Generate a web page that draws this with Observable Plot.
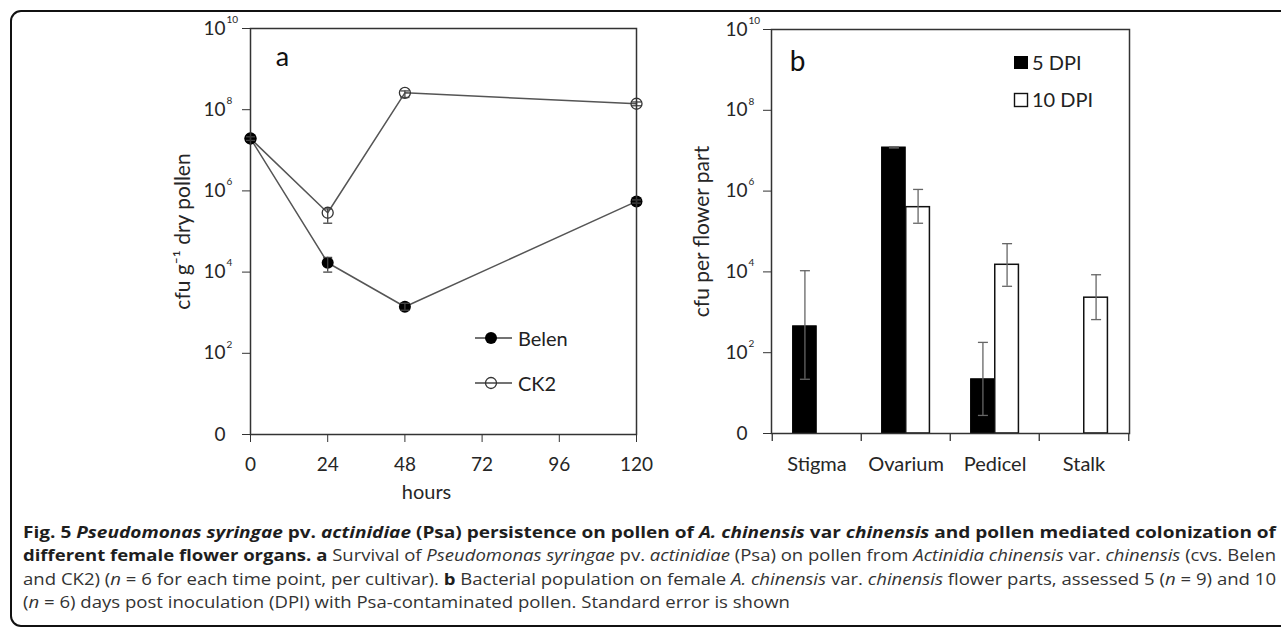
<!DOCTYPE html>
<html>
<head>
<meta charset="utf-8">
<script src="https://cdn.jsdelivr.net/npm/d3@7"></script>
<script src="https://cdn.jsdelivr.net/npm/@observablehq/plot@0.6"></script>
<style>
html, body { margin: 0; padding: 0; background: #fff; }
body { width: 1281px; height: 628px; overflow: hidden; position: relative; font-family: Lato, "Open Sans", sans-serif; }
#box { position: absolute; left: 10px; top: 10px; width: 1320px; height: 617px; border: 2.5px solid #111; border-radius: 11px; box-sizing: border-box; }
#pa { position: absolute; left: 0; top: 0; }
#pb { position: absolute; left: 680px; top: 0; }
.lgt { position: absolute; font-family: Lato, sans-serif; font-size: 20px; color: #222; line-height: 24px; white-space: nowrap; }
#cap { position: absolute; left: 23px; top: 521px; font-family: "Open Sans", sans-serif; font-size: 15.5px; color: #333; }
.ln { position: absolute; left: 0; white-space: nowrap; display: inline-block; transform-origin: 0 50%; line-height: 23.3px; }
.ln b { color: #1e1e1e; font-weight: 700; }
</style>
</head>
<body>
<div id="box"></div>
<div id="pa"></div>
<div id="pb"></div>

<svg style="position:absolute;left:0;top:0;overflow:visible" width="1281" height="628" id="legsvg">
  <line x1="475" y1="338" x2="512" y2="338" stroke="#444" stroke-width="1.5"/>
  <circle cx="491" cy="338" r="6" fill="#000"/>
  <line x1="475" y1="383" x2="512" y2="383" stroke="#444" stroke-width="1.5"/>
  <circle cx="491" cy="383" r="5.5" fill="none" stroke="#333" stroke-width="1.3"/>
  <rect x="1014" y="56" width="14" height="13" fill="#000"/>
  <rect x="1014.5" y="93.5" width="13" height="13" fill="#fff" stroke="#111" stroke-width="1.4"/>
</svg>
<div class="lgt" style="left:518px;top:326px">Belen</div>
<div class="lgt" style="left:518px;top:371px">CK2</div>
<div class="lgt" style="left:1032px;top:50px">5 DPI</div>
<div class="lgt" style="left:1032px;top:87px">10 DPI</div>

<div id="cap">
  <div class="ln" style="top:0px"><b>Fig. 5 <i>Pseudomonas syringae</i> pv. <i>actinidiae</i> (Psa) persistence on pollen of <i>A. chinensis</i> var <i>chinensis</i> and pollen mediated colonization of</b></div>
  <div class="ln" style="top:23.3px"><b>different female flower organs. a</b> Survival of <i>Pseudomonas syringae</i> pv. <i>actinidiae</i> (Psa) on pollen from <i>Actinidia chinensis</i> var. <i>chinensis</i> (cvs. Belen</div>
  <div class="ln" style="top:46.6px">and CK2) (<i>n</i> = 6 for each time point, per cultivar). <b>b</b> Bacterial population on female <i>A. chinensis</i> var. <i>chinensis</i> flower parts, assessed 5 (<i>n</i> = 9) and 10</div>
  <div class="ln" style="top:69.9px">(<i>n</i> = 6) days post inoculation (DPI) with Psa-contaminated pollen. Standard error is shown</div>
</div>

<script>
// ---------- Data: panel a ----------
const hours = [0, 24, 48, 120];
const hourTicks = [0, 24, 48, 72, 96, 120];
const belenMean = [1.95e7, 1.7e4, 1.4e3, 5.5e5];
const belenLow  = [1.75e7, 1.0e4, 1.15e3, 5.0e5];
const belenHigh = [2.15e7, 2.3e4, 1.7e3, 6.0e5];
const ck2Mean = [1.95e7, 2.9e5, 2.6e8, 1.4e8];
const ck2Low  = [1.75e7, 1.6e5, 2.0e8, 1.25e8];
const ck2High = [2.15e7, 3.6e5, 2.9e8, 1.55e8];

// ---------- Data: panel b ----------
const parts = ["Stigma", "Ovarium", "Pedicel", "Stalk"];
const dpi5Mean = [450, 1.2e7, 22, null];
const dpi5Low  = [22, 1.17e7, 2.8, null];
const dpi5High = [1.07e4, 1.25e7, 180, null];
const dpi10Mean = [null, 4.0e5, 1.5e4, 2.3e3];
const dpi10Low  = [null, 1.6e5, 4.4e3, 660];
const dpi10High = [null, 1.1e6, 5.0e4, 8.5e3];

// ---------- Shared axis ticks ----------
const yTicks = [1, 1e2, 1e4, 1e6, 1e8, 1e10];
const yBase = d => d === 1 ? "0" : "10";
const yExp = d => String(Math.round(Math.log10(d)));

// horizontal cap symbol for error bars
const capSymbol = {
  draw(ctx, size) {
    const r = Math.sqrt(size / Math.PI);
    ctx.moveTo(-r, 0);
    ctx.lineTo(r, 0);
  }
};

const rowsBelen = hours.map((h, i) => ({hour: h, value: belenMean[i], lo: belenLow[i], hi: belenHigh[i], series: "Belen"}));
const rowsCk2 = hours.map((h, i) => ({hour: h, value: ck2Mean[i], lo: ck2Low[i], hi: ck2High[i], series: "CK2"}));

const ink = "#262626";
const baseStyle = {fontFamily: "Lato, 'Open Sans', sans-serif", fontSize: "19px", color: ink, background: "none", overflow: "visible"};

// ---------- Panel a ----------
const plotA = Plot.plot({
  width: 680, height: 520,
  marginLeft: 250, marginRight: 44, marginTop: 28, marginBottom: 86,
  style: baseStyle,
  x: {domain: [0, 120]},
  y: {type: "log", domain: [1, 1e10]},
  marks: [
    Plot.axisX({ticks: hourTicks, tickSize: 8, tickPadding: 15, label: null, stroke: "#333", fill: ink}),
    Plot.axisY({ticks: yTicks, tickSize: 8, tickPadding: 17, tickFormat: yBase, label: null, stroke: "#333", fill: ink}),
    Plot.text(yTicks.filter(d => d > 1), {y: d => d, frameAnchor: "left", text: yExp, dx: -24, dy: -9, textAnchor: "start", fontSize: 10, fill: ink}),
    Plot.text(["cfu g\u207B\u00B9 dry pollen"], {frameAnchor: "left", text: d => d, rotate: -90, dx: -67, textAnchor: "middle", lineAnchor: "middle", fontSize: 21, fill: ink}),
    Plot.text(["hours"], {frameAnchor: "bottom", text: d => d, dx: -17, dy: 58, textAnchor: "middle", lineAnchor: "middle", fontSize: 20, fill: ink}),
    Plot.text(["a"], {frameAnchor: "top-left", text: d => d, dx: 32, dy: 29, textAnchor: "middle", lineAnchor: "middle", fontSize: 27, fill: "#111"}),
    Plot.line(rowsCk2, {x: "hour", y: "value", stroke: "#555", strokeWidth: 1.5}),
    Plot.line(rowsBelen, {x: "hour", y: "value", stroke: "#555", strokeWidth: 1.5}),
    Plot.dot(rowsCk2, {x: "hour", y: "value", r: 5.5, fill: "none", stroke: "#333", strokeWidth: 1.3}),
    Plot.ruleX(rowsCk2, {x: "hour", y1: "lo", y2: "hi", stroke: "#444", strokeWidth: 1.3}),
    Plot.dot(rowsCk2, {x: "hour", y: "hi", r: 4.5, symbol: capSymbol, stroke: "#444", strokeWidth: 1.3}),
    Plot.dot(rowsCk2, {x: "hour", y: "lo", r: 4.5, symbol: capSymbol, stroke: "#444", strokeWidth: 1.3}),
    Plot.dot(rowsBelen, {x: "hour", y: "value", r: 6, fill: "#000"}),
    Plot.ruleX(rowsBelen, {x: "hour", y1: "lo", y2: "hi", stroke: "#444", strokeWidth: 1.3}),
    Plot.dot(rowsBelen, {x: "hour", y: "hi", r: 4.5, symbol: capSymbol, stroke: "#444", strokeWidth: 1.3}),
    Plot.dot(rowsBelen, {x: "hour", y: "lo", r: 4.5, symbol: capSymbol, stroke: "#444", strokeWidth: 1.3}),
    Plot.frame({stroke: "#333", strokeWidth: 1.5})
  ]
});
document.getElementById("pa").appendChild(plotA);

// ---------- Panel b ----------
const widthB = 601, mLB = 91, mRB = 152;
const bw = (widthB - mLB - mRB) / parts.length;
const barW = bw * 0.27;
const rows5 = parts.map((p, i) => ({part: p, value: dpi5Mean[i], lo: dpi5Low[i], hi: dpi5High[i]})).filter(d => d.value != null);
const rows10 = parts.map((p, i) => ({part: p, value: dpi10Mean[i], lo: dpi10Low[i], hi: dpi10High[i]})).filter(d => d.value != null);
const tickDrop = Math.pow(10, -0.198);

const plotB = Plot.plot({
  width: widthB, height: 520,
  marginLeft: mLB, marginRight: mRB, marginTop: 29, marginBottom: 87,
  style: baseStyle,
  x: {type: "band", domain: parts, padding: 0},
  y: {type: "log", domain: [1, 1e10]},
  marks: [
    Plot.barY(rows5, {x: "part", y1: 1, y2: "value", fill: "#000", stroke: "#000", strokeWidth: 1, insetLeft: bw / 2 - barW, insetRight: bw / 2}),
    Plot.barY(rows10, {x: "part", y1: 1, y2: "value", fill: "#fff", stroke: "#111", strokeWidth: 1.5, insetLeft: bw / 2, insetRight: bw / 2 - barW}),
    Plot.ruleX(rows5, {x: "part", y1: "lo", y2: "hi", dx: -barW / 2, stroke: "#666", strokeWidth: 1.3}),
    Plot.dot(rows5, {x: "part", y: "hi", dx: -barW / 2, r: 5, symbol: capSymbol, stroke: "#666", strokeWidth: 1.3}),
    Plot.dot(rows5, {x: "part", y: "lo", dx: -barW / 2, r: 5, symbol: capSymbol, stroke: "#666", strokeWidth: 1.3}),
    Plot.ruleX(rows10, {x: "part", y1: "lo", y2: "hi", dx: barW / 2, stroke: "#666", strokeWidth: 1.3}),
    Plot.dot(rows10, {x: "part", y: "hi", dx: barW / 2, r: 5, symbol: capSymbol, stroke: "#666", strokeWidth: 1.3}),
    Plot.dot(rows10, {x: "part", y: "lo", dx: barW / 2, r: 5, symbol: capSymbol, stroke: "#666", strokeWidth: 1.3}),
    Plot.ruleX(parts, {x: d => d, dx: -bw / 2, y1: 1, y2: tickDrop, stroke: "#333", strokeWidth: 1.3}),
    Plot.ruleX(parts.slice(-1), {x: d => d, dx: bw / 2, y1: 1, y2: tickDrop, stroke: "#333", strokeWidth: 1.3}),
    Plot.axisX({tickSize: 0, tickPadding: 23, label: null, fontSize: 20, fill: ink}),
    Plot.axisY({ticks: yTicks, tickSize: 8, tickPadding: 16, tickFormat: yBase, label: null, stroke: "#333", fill: ink}),
    Plot.text(yTicks.filter(d => d > 1), {y: d => d, frameAnchor: "left", text: yExp, dx: -23, dy: -9, textAnchor: "start", fontSize: 10, fill: ink}),
    Plot.text(["cfu per flower part"], {frameAnchor: "left", text: d => d, rotate: -90, dx: -69, textAnchor: "middle", lineAnchor: "middle", fontSize: 21, fill: ink}),
    Plot.text(["b"], {frameAnchor: "top-left", text: d => d, dx: 26, dy: 33, textAnchor: "middle", lineAnchor: "middle", fontSize: 28, fill: "#111"}),
    Plot.frame({stroke: "#333", strokeWidth: 1.5})
  ]
});
document.getElementById("pb").appendChild(plotB);

// ---------- Fit caption lines to the column width ----------
function fitCaption() {
  const target = 1253;
  const lines = Array.from(document.querySelectorAll("#cap .ln"));
  let last = 1;
  lines.forEach((el, i) => {
    el.style.transform = "none";
    const w = el.getBoundingClientRect().width;
    const s = i < lines.length - 1 ? target / w : last;
    last = s;
    el.style.transform = `scaleX(${s})`;
  });
}
fitCaption();
if (document.fonts && document.fonts.ready) document.fonts.ready.then(fitCaption);
</script>
</body>
</html>
